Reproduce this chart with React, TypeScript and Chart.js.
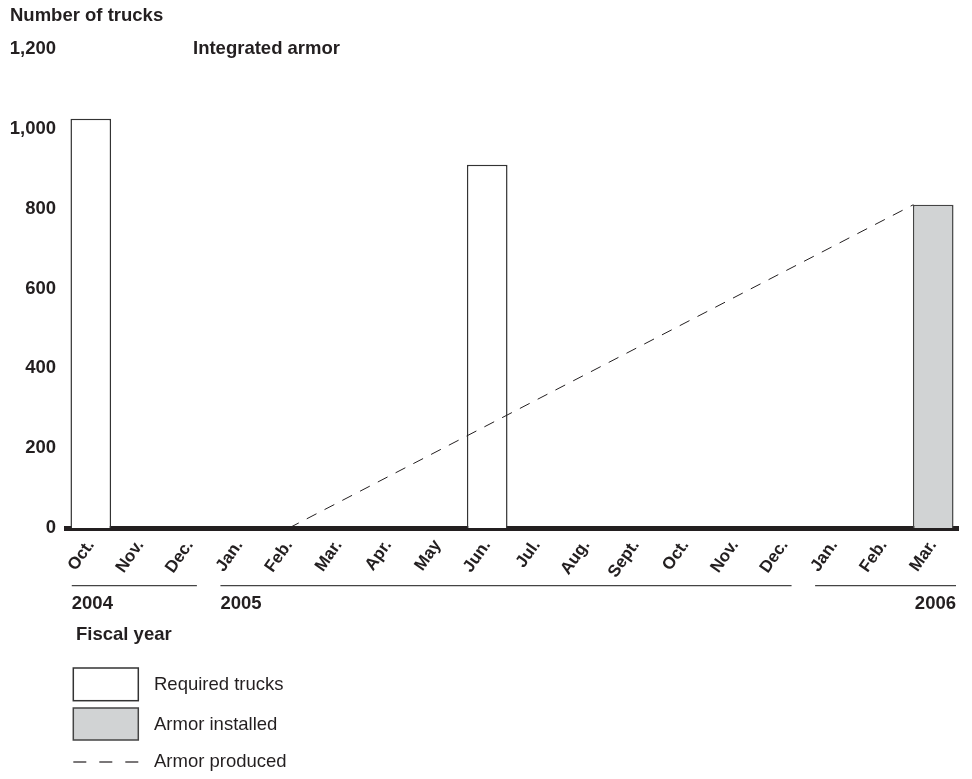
import React, { useEffect, useRef } from "react";
import { Chart, registerables } from "chart.js";

Chart.register(...registerables);

// ---- Data ----
const months = [
  "Oct.", "Nov.", "Dec.",
  "Jan.", "Feb.", "Mar.", "Apr.", "May", "Jun.", "Jul.", "Aug.", "Sept.", "Oct.", "Nov.", "Dec.",
  "Jan.", "Feb.", "Mar.",
];
const requiredTrucks = [1025, null, null, null, null, null, null, null, 910, null, null, null, null, null, null, null, null, null];
const armorInstalled = [null, null, null, null, null, null, null, null, null, null, null, null, null, null, null, null, null, 810];
const armorProducedX = [4, 16.6];
const armorProducedY = [0, 810];
const yTickValues = [0, 200, 400, 600, 800, 1000, 1200];
const years = ["2004", "2005", "2006"];
const yearStartIdx = [0, 3, 15];
const yearEndIdx = [2, 14, 17];

const FONT = '"Liberation Sans", Arial, Helvetica, sans-serif';
const FS = 18.5;
const XFS = 17;
const INK = "#231f20";
const GRAY = "#d1d3d4";
const CANVAS_W = 956;
const CANVAS_H = 771;

const overlayPlugin = {
  id: "overlay",
  afterDraw(chart: any) {
    const { ctx, chartArea, scales } = chart;
    const xs = scales.x;
    ctx.save();
    ctx.fillStyle = INK;
    ctx.strokeStyle = INK;
    ctx.textBaseline = "middle";
    ctx.font = `bold ${FS}px ${FONT}`;
    ctx.textAlign = "left";
    ctx.fillText("Number of trucks", 2, 8);
    ctx.fillText("Integrated armor", 185, chartArea.top);

    // fiscal year groups
    const lineY = 577.7;
    years.forEach((yr, i) => {
      const last = i === years.length - 1;
      const x0 = xs.getPixelForTick(yearStartIdx[i]) - 19;
      const x1 = last ? chartArea.right - 2 : xs.getPixelForTick(yearEndIdx[i]) + 7;
      ctx.beginPath();
      ctx.lineWidth = 1.3;
      ctx.strokeStyle = "#444";
      ctx.moveTo(x0, lineY);
      ctx.lineTo(x1, lineY);
      ctx.stroke();
      ctx.textAlign = last ? "right" : "left";
      ctx.fillText(yr, last ? x1 : x0, 595.5);
    });
    ctx.textAlign = "left";
    ctx.fillText("Fiscal year", 68, 626.5);

    // legend
    const ds = chart.data.datasets;
    ctx.font = `${FS}px ${FONT}`;
    const boxL = 65.3, boxW = 65, textX = 146;
    const rows = [
      { top: 660, h: 32.7 },
      { top: 700, h: 32 },
    ];
    [0, 1].forEach((k) => {
      const d = ds[k];
      const r = rows[k];
      ctx.fillStyle = d.backgroundColor;
      ctx.fillRect(boxL, r.top, boxW, r.h);
      ctx.lineWidth = 1.5;
      ctx.strokeStyle = d.borderColor;
      ctx.strokeRect(boxL, r.top, boxW, r.h);
      ctx.fillStyle = INK;
      ctx.fillText(d.label, textX, r.top + r.h / 2 + 1);
    });
    const lineRowY = 754;
    ctx.beginPath();
    ctx.setLineDash([13, 13]);
    ctx.lineWidth = 1.2;
    ctx.strokeStyle = ds[2].borderColor;
    ctx.moveTo(boxL, lineRowY);
    ctx.lineTo(boxL + boxW, lineRowY);
    ctx.stroke();
    ctx.setLineDash([]);
    ctx.fillStyle = INK;
    ctx.fillText(ds[2].label, textX, lineRowY);
    ctx.restore();
  },
};

export default function App() {
  const ref = useRef<HTMLCanvasElement | null>(null);
  useEffect(() => {
    if (!ref.current) return;
    const chart = new Chart(ref.current, {
      type: "bar",
      data: {
        labels: months,
        datasets: [
          {
            label: "Required trucks",
            data: requiredTrucks as any,
            backgroundColor: "#ffffff",
            borderColor: "#333333",
            borderWidth: 1.5,
            grouped: false,
            barPercentage: 0.82,
            categoryPercentage: 1,
            order: 2,
          } as any,
          {
            label: "Armor installed",
            data: armorInstalled as any,
            backgroundColor: GRAY,
            borderColor: "#444444",
            borderWidth: 1.5,
            grouped: false,
            barPercentage: 0.82,
            categoryPercentage: 1,
            order: 2,
          } as any,
          {
            type: "line",
            label: "Armor produced",
            data: armorProducedX.map((x, i) => ({ x, y: armorProducedY[i] })),
            xAxisID: "xLine",
            borderColor: INK,
            borderWidth: 1,
            borderDash: [11, 9],
            pointRadius: 0,
            fill: false,
            order: 1,
          } as any,
        ],
      },
      options: {
        responsive: false,
        animation: false,
        layout: { padding: { left: 0, right: 6, top: 41, bottom: 0 } },
        plugins: {
          legend: { display: false },
          tooltip: { enabled: false },
        },
        scales: {
          x: {
            type: "category",
            offset: true,
            z: 1,
            grid: { display: false },
            border: { display: true, width: 5, color: INK },
            ticks: {
              autoSkip: false,
              maxRotation: 55,
              minRotation: 55,
              padding: 0,
              color: INK,
              font: { family: FONT, size: XFS, weight: "bold" },
            },
            afterFit(scale: any) {
              scale.height = CANVAS_H - 520;
            },
          },
          xLine: {
            type: "linear",
            display: false,
            offset: false,
            min: -0.5,
            max: 17.5,
          },
          y: {
            min: 0,
            max: 1200,
            afterBuildTicks(scale: any) {
              scale.ticks = yTickValues.map((v) => ({ value: v }));
            },
            grid: { display: false },
            border: { display: false },
            ticks: {
              padding: 2,
              color: INK,
              font: { family: FONT, size: FS, weight: "bold" },
              callback: (v: any) => Number(v).toLocaleString("en-US"),
            },
            afterFit(scale: any) {
              scale.width = 58;
            },
          },
        },
      } as any,
      plugins: [overlayPlugin],
    });
    return () => chart.destroy();
  }, []);
  return (
    <div style={{ width: CANVAS_W, height: CANVAS_H, marginBottom: -8 }}>
      <canvas ref={ref} width={CANVAS_W} height={CANVAS_H} style={{ display: "block" }} />
    </div>
  );
}
